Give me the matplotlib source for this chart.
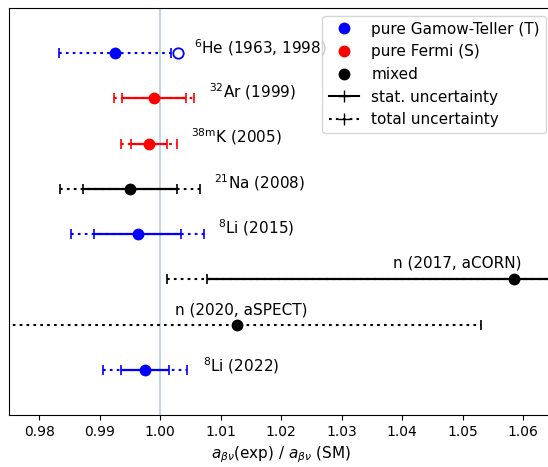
import numpy as np
import matplotlib
matplotlib.use("Agg")
import matplotlib.pyplot as plt
from matplotlib.lines import Line2D

plt.rcParams["savefig.bbox"] = "standard"

# measurements, top to bottom
LABELS = [r"$^{6}$He (1963, 1998)", r"$^{32}$Ar (1999)", r"$^{38\mathrm{m}}$K (2005)",
          r"$^{21}$Na (2008)", r"$^{8}$Li (2015)", "n (2017, aCORN)",
          "n (2020, aSPECT)", r"$^{8}$Li (2022)"]
KINDS = ["T", "S", "S", "mixed", "T", "mixed", "mixed", "T"]
VALUES = [0.9925, 0.9989, 0.9981, 0.9950, 0.9963, 1.0585, 1.0126, 0.9975]
STAT_ERR = [np.nan, 0.0053, 0.0030, 0.0078, 0.0072, 0.0507, np.nan, 0.0040]
TOTAL_ERR = [0.0092, 0.0066, 0.0046, 0.0115, 0.0110, 0.0574, 0.0404, 0.0069]
HE6_OLD = 1.0030  # open marker, 6He 1963

COLORS = {"T": "blue", "S": "red", "mixed": "black"}

# label placement (x in data units, vertical offset in px above the point)
LABEL_X = [1.0055, 1.0080, 1.0050, 1.0088, 1.0096, 1.0597, 1.0025, 1.0071]
LABEL_HA = ["left"] * 5 + ["right", "left", "left"]
LABEL_DY = [6, 7, 7, 6, 6, 16, 15, 4]

DOTTED = (0, (1.3, 2.0))

fig = plt.figure(figsize=(5.48, 4.67), dpi=100)
ax = fig.add_axes([0.0164, 0.1113, 0.9938, 0.8716])

ys = np.arange(len(VALUES), 0, -1)
px_per_unit = 45.3

ax.axvline(1.0, color="#b4d0e8", lw=1.2, zorder=0)

for i, y in enumerate(ys):
    c = COLORS[KINDS[i]]
    eb = ax.errorbar(VALUES[i], y, xerr=TOTAL_ERR[i], fmt="none", ecolor=c,
                     elinewidth=1.5, capsize=3.5, capthick=1.2)
    eb[2][0].set_linestyle(DOTTED)
    if not np.isnan(STAT_ERR[i]):
        ax.errorbar(VALUES[i], y, xerr=STAT_ERR[i], fmt="none", ecolor=c,
                    elinewidth=1.6, capsize=3.5, capthick=1.2)
    ax.plot(VALUES[i], y, "o", color=c, ms=7.5, zorder=3)
    ax.text(LABEL_X[i], y + LABEL_DY[i] / px_per_unit, LABELS[i],
            ha=LABEL_HA[i], va="center", fontsize=11)

ax.plot(HE6_OLD, ys[0], "o", mfc="white", mec="blue", mew=1.3, ms=7.5, zorder=3)

ax.set_xlim(0.975, 1.065)
ax.set_ylim(0, 9)
ax.set_yticks([])
ax.set_xticks(np.arange(0.98, 1.061, 0.01))
ax.tick_params(axis="x", labelsize=10)
ax.set_xlabel(r"$a_{\beta\nu}$(exp) / $a_{\beta\nu}$ (SM)", fontsize=11)

handles = [
    Line2D([], [], ls="none", marker="o", color="blue", ms=7.5),
    Line2D([], [], ls="none", marker="o", color="red", ms=7.5),
    Line2D([], [], ls="none", marker="o", color="black", ms=7.5),
    Line2D([], [], ls="-", marker="+", color="black", lw=1.5, ms=8),
    Line2D([], [], ls=DOTTED, marker="+", color="black", lw=1.5, ms=8),
]
ax.legend(handles, ["pure Gamow-Teller (T)", "pure Fermi (S)", "mixed",
                    "stat. uncertainty", "total uncertainty"],
          loc="upper right", fontsize=11)

fig.savefig("out.png", dpi=100)
